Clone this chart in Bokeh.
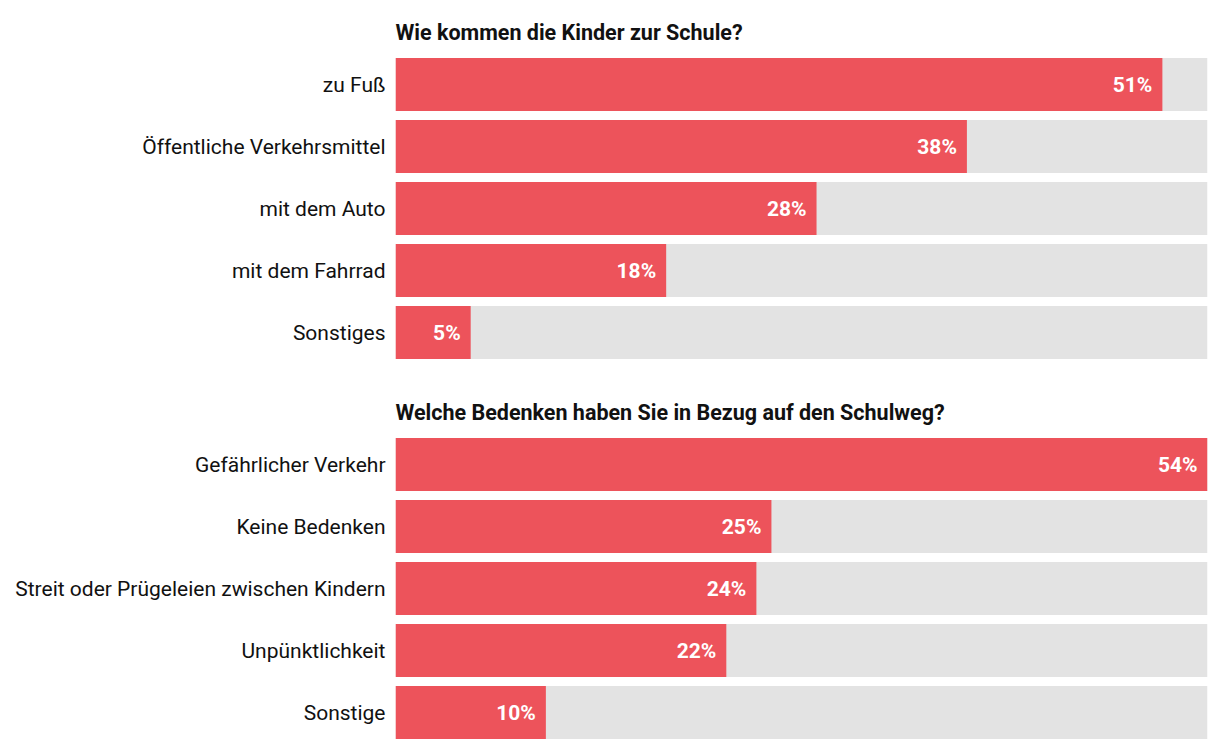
from bokeh.plotting import figure
from bokeh.layouts import column
from bokeh.models import Range1d, ColumnDataSource
from bokeh.embed import file_html
from bokeh.resources import INLINE

title1 = "Wie kommen die Kinder zur Schule?"
cats1 = ["zu Fuß", "Öffentliche Verkehrsmittel", "mit dem Auto", "mit dem Fahrrad", "Sonstiges"]
vals1 = [51, 38, 28, 18, 5]

title2 = "Welche Bedenken haben Sie in Bezug auf den Schulweg?"
cats2 = ["Gefährlicher Verkehr", "Keine Bedenken", "Streit oder Prügeleien zwischen Kindern",
         "Unpünktlichkeit", "Sonstige"]
vals2 = [54, 25, 24, 22, 10]

XMAX = 54
RED = "#ED535B"
GREY = "#E3E3E3"
FONT = "Roboto"


def panel(title, cats, vals, top_border):
    p = figure(y_range=list(reversed(cats)), x_range=Range1d(0, XMAX),
               frame_width=812, frame_height=310,
               min_border_left=395, min_border_right=4, min_border_top=top_border,
               min_border_bottom=0, output_backend="svg", toolbar_location=None,
               title=title)
    src = ColumnDataSource(dict(cat=cats, val=vals, full=[XMAX] * len(cats),
                                lab=[f"{v}%" for v in vals]))
    p.hbar(y="cat", right="full", left=0, height=0.855, source=src, color=GREY, line_color=None)
    p.hbar(y="cat", right="val", left=0, height=0.855, source=src, color=RED, line_color=None)
    p.text(x="val", y="cat", text="lab", source=src, x_offset=-10, text_align="right",
           text_baseline="middle", text_color="white", text_font_size="21px",
           text_font_style="bold", text_font={"value": FONT})
    p.title.text_font = FONT
    p.title.text_font_size = "21.5px"
    p.title.text_font_style = "bold"
    p.title.text_color = "#111111"
    p.title.align = "left"
    p.title.offset = 0
    p.title.standoff = 17
    p.xaxis.visible = False
    p.yaxis.axis_line_color = None
    p.yaxis.major_tick_line_color = None
    p.yaxis.minor_tick_line_color = None
    p.yaxis.major_label_text_font = FONT
    p.yaxis.major_label_text_font_size = "21px"
    p.yaxis.major_label_text_color = "#111111"
    p.yaxis.major_label_standoff = 4
    p.xgrid.visible = False
    p.ygrid.visible = False
    p.outline_line_color = None
    p.y_range.range_padding = 0
    return p


p1 = panel(title1, cats1, vals1, 53)
p2 = panel(title2, cats2, vals2, 70)
layout = column(p1, p2, spacing=0)
open("out.html", "w").write(file_html(layout, INLINE))
